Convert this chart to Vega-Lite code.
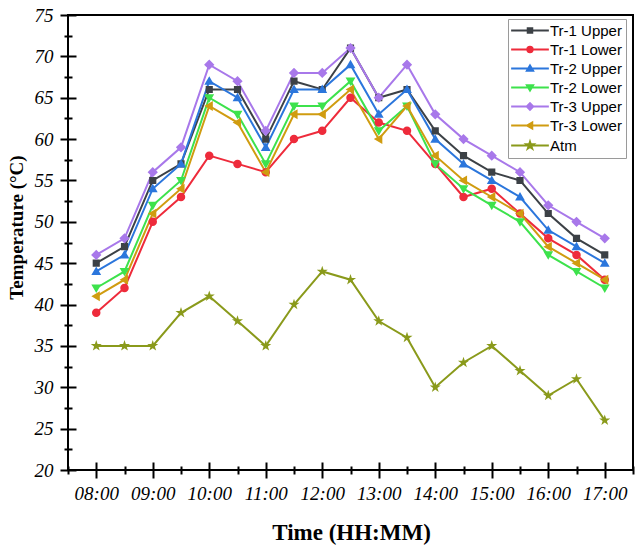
{
  "$schema": "https://vega.github.io/schema/vega-lite/v6.json",
  "width": 565,
  "height": 455,
  "autosize": {"type": "none"},
  "padding": {"left": 68, "top": 15, "right": 7, "bottom": 79},
  "background": "white",
  "config": {
    "view": {"stroke": "#000", "strokeWidth": 2},
    "font": "Liberation Serif",
    "axis": {"grid": false, "tickColor": "#000", "tickWidth": 2, "labelColor": "#000", "titleColor": "#000"},
    "legend": {
      "labelFont": "Liberation Sans", "labelFontSize": 15, "labelColor": "#000", "labelLimit": 0,
      "symbolSize": 32, "symbolOffset": 10.5, "labelOffset": 12.5, "rowPadding": 3,
      "padding": 4, "strokeColor": "#9a9a9a", "fillColor": "#fff", "symbolStrokeWidth": 2
    }
  },
  "data": {
    "values": [
      {"time": "08:00", "hour": 8, "Tr-1 Upper": 45, "Tr-1 Lower": 39, "Tr-2 Upper": 44, "Tr-2 Lower": 42, "Tr-3 Upper": 46, "Tr-3 Lower": 41, "Atm": 35},
      {"time": "08:30", "hour": 8.5, "Tr-1 Upper": 47, "Tr-1 Lower": 42, "Tr-2 Upper": 46, "Tr-2 Lower": 44, "Tr-3 Upper": 48, "Tr-3 Lower": 43, "Atm": 35},
      {"time": "09:00", "hour": 9, "Tr-1 Upper": 55, "Tr-1 Lower": 50, "Tr-2 Upper": 54, "Tr-2 Lower": 52, "Tr-3 Upper": 56, "Tr-3 Lower": 51, "Atm": 35},
      {"time": "09:30", "hour": 9.5, "Tr-1 Upper": 57, "Tr-1 Lower": 53, "Tr-2 Upper": 57, "Tr-2 Lower": 55, "Tr-3 Upper": 59, "Tr-3 Lower": 54, "Atm": 39},
      {"time": "10:00", "hour": 10, "Tr-1 Upper": 66, "Tr-1 Lower": 58, "Tr-2 Upper": 67, "Tr-2 Lower": 65, "Tr-3 Upper": 69, "Tr-3 Lower": 64, "Atm": 41},
      {"time": "10:30", "hour": 10.5, "Tr-1 Upper": 66, "Tr-1 Lower": 57, "Tr-2 Upper": 65, "Tr-2 Lower": 63, "Tr-3 Upper": 67, "Tr-3 Lower": 62, "Atm": 38},
      {"time": "11:00", "hour": 11, "Tr-1 Upper": 60, "Tr-1 Lower": 56, "Tr-2 Upper": 59, "Tr-2 Lower": 57, "Tr-3 Upper": 61, "Tr-3 Lower": 56, "Atm": 35},
      {"time": "11:30", "hour": 11.5, "Tr-1 Upper": 67, "Tr-1 Lower": 60, "Tr-2 Upper": 66, "Tr-2 Lower": 64, "Tr-3 Upper": 68, "Tr-3 Lower": 63, "Atm": 40},
      {"time": "12:00", "hour": 12, "Tr-1 Upper": 66, "Tr-1 Lower": 61, "Tr-2 Upper": 66, "Tr-2 Lower": 64, "Tr-3 Upper": 68, "Tr-3 Lower": 63, "Atm": 44},
      {"time": "12:30", "hour": 12.5, "Tr-1 Upper": 71, "Tr-1 Lower": 65, "Tr-2 Upper": 69, "Tr-2 Lower": 67, "Tr-3 Upper": 71, "Tr-3 Lower": 66, "Atm": 43},
      {"time": "13:00", "hour": 13, "Tr-1 Upper": 65, "Tr-1 Lower": 62, "Tr-2 Upper": 63, "Tr-2 Lower": 61, "Tr-3 Upper": 65, "Tr-3 Lower": 60, "Atm": 38},
      {"time": "13:30", "hour": 13.5, "Tr-1 Upper": 66, "Tr-1 Lower": 61, "Tr-2 Upper": 66, "Tr-2 Lower": 64, "Tr-3 Upper": 69, "Tr-3 Lower": 64, "Atm": 36},
      {"time": "14:00", "hour": 14, "Tr-1 Upper": 61, "Tr-1 Lower": 57, "Tr-2 Upper": 60, "Tr-2 Lower": 57, "Tr-3 Upper": 63, "Tr-3 Lower": 58, "Atm": 30},
      {"time": "14:30", "hour": 14.5, "Tr-1 Upper": 58, "Tr-1 Lower": 53, "Tr-2 Upper": 57, "Tr-2 Lower": 54, "Tr-3 Upper": 60, "Tr-3 Lower": 55, "Atm": 33},
      {"time": "15:00", "hour": 15, "Tr-1 Upper": 56, "Tr-1 Lower": 54, "Tr-2 Upper": 55, "Tr-2 Lower": 52, "Tr-3 Upper": 58, "Tr-3 Lower": 53, "Atm": 35},
      {"time": "15:30", "hour": 15.5, "Tr-1 Upper": 55, "Tr-1 Lower": 51, "Tr-2 Upper": 53, "Tr-2 Lower": 50, "Tr-3 Upper": 56, "Tr-3 Lower": 51, "Atm": 32},
      {"time": "16:00", "hour": 16, "Tr-1 Upper": 51, "Tr-1 Lower": 48, "Tr-2 Upper": 49, "Tr-2 Lower": 46, "Tr-3 Upper": 52, "Tr-3 Lower": 47, "Atm": 29},
      {"time": "16:30", "hour": 16.5, "Tr-1 Upper": 48, "Tr-1 Lower": 46, "Tr-2 Upper": 47, "Tr-2 Lower": 44, "Tr-3 Upper": 50, "Tr-3 Lower": 45, "Atm": 31},
      {"time": "17:00", "hour": 17, "Tr-1 Upper": 46, "Tr-1 Lower": 43, "Tr-2 Upper": 45, "Tr-2 Lower": 42, "Tr-3 Upper": 48, "Tr-3 Lower": 43, "Atm": 26}
    ]
  },
  "transform": [
    {"fold": ["Tr-1 Upper", "Tr-1 Lower", "Tr-2 Upper", "Tr-2 Lower", "Tr-3 Upper", "Tr-3 Lower", "Atm"], "as": ["series", "temp"]}
  ],
  "layer": [
    {
      "mark": {"type": "line", "strokeWidth": 2},
      "encoding": {
        "x": {
          "field": "hour", "type": "quantitative",
          "scale": {"domain": [7.5, 17.5], "nice": false, "zero": false},
          "axis": {
            "orient": "bottom", "domain": false, "ticks": false, "tickSize": 0,
            "values": [8, 9, 10, 11, 12, 13, 14, 15, 16, 17],
            "labelExpr": "(datum.value < 10 ? '0' : '') + datum.value + ':00'",
            "labelFontStyle": "italic", "labelFontSize": 19, "labelPadding": 14, "labelFlush": false, "labelOverlap": false,
            "title": "Time (HH:MM)", "titleFontSize": 23, "titleFontWeight": "bold",
            "titleX": 283, "titleY": 69, "titleBaseline": "alphabetic", "titleAlign": "center"
          }
        },
        "y": {
          "field": "temp", "type": "quantitative",
          "scale": {"domain": [20, 75], "nice": false, "zero": false},
          "axis": {
            "orient": "left", "domain": false, "ticks": false, "tickSize": 0,
            "values": [20, 25, 30, 35, 40, 45, 50, 55, 60, 65, 70, 75],
            "labelFontStyle": "italic", "labelFontSize": 19, "labelPadding": 15,
            "title": "Temperature (°C)", "titleFontSize": 19, "titleFontWeight": "bold",
            "titleAngle": 270, "titleX": -52, "titleY": 212, "titleBaseline": "middle", "titleAlign": "center"
          }
        },
        "stroke": {
          "field": "series", "type": "nominal",
          "scale": {
            "domain": ["Tr-1 Upper", "Tr-1 Lower", "Tr-2 Upper", "Tr-2 Lower", "Tr-3 Upper", "Tr-3 Lower", "Atm"],
            "range": ["#3c4146", "#ee2b3b", "#2b76dc", "#3de24c", "#a878ea", "#d09c10", "#8a9a1b"]
          },
          "legend": {"title": null, "orient": "none", "legendX": 440, "legendY": 4}
        }
      }
    },
    {
      "mark": {"type": "point", "filled": true, "size": 80, "opacity": 1, "strokeWidth": 0},
      "encoding": {
        "x": {
          "field": "hour", "type": "quantitative",
          "scale": {"domain": [7.5, 17.5], "nice": false, "zero": false},
          "axis": {"orient": "bottom", "offset": -8, "tickSize": 16, "domain": false, "labels": false, "title": null, "values": [8, 9, 10, 11, 12, 13, 14, 15, 16, 17]}
        },
        "y": {
          "field": "temp", "type": "quantitative",
          "scale": {"domain": [20, 75], "nice": false, "zero": false},
          "axis": {"orient": "left", "offset": -8, "tickSize": 16, "domain": false, "labels": false, "title": null, "values": [20, 25, 30, 35, 40, 45, 50, 55, 60, 65, 70, 75]}
        },
        "stroke": {"field": "series", "type": "nominal", "legend": {"title": null, "orient": "none", "legendX": 440, "legendY": 4}},
        "fill": {
          "field": "series", "type": "nominal",
          "scale": {
            "domain": ["Tr-1 Upper", "Tr-1 Lower", "Tr-2 Upper", "Tr-2 Lower", "Tr-3 Upper", "Tr-3 Lower", "Atm"],
            "range": ["#3c4146", "#ee2b3b", "#2b76dc", "#3de24c", "#a878ea", "#d09c10", "#8a9a1b"]
          },
          "legend": {
            "title": null, "orient": "none", "legendX": 440, "legendY": 4,
            "encoding": {"symbols": {"strokeWidth": {"value": 2}, "size": {"value": 32}}}
          }
        },
        "shape": {
          "field": "series", "type": "nominal",
          "scale": {
            "domain": ["Tr-1 Upper", "Tr-1 Lower", "Tr-2 Upper", "Tr-2 Lower", "Tr-3 Upper", "Tr-3 Lower", "Atm"],
            "range": [
              "M-6.67,0H6.67M-0.8,-0.8H0.8V0.8H-0.8Z",
              "M-6.67,0H6.67M-0.95,0A0.95,0.95 0 1,0 0.95,0A0.95,0.95 0 1,0 -0.95,0Z",
              "M-6.67,0H6.67M0,-1.1L1.1,0.8H-1.1Z",
              "M-6.67,0H6.67M0,1.1L1.1,-0.8H-1.1Z",
              "M-6.67,0H6.67M0,-1.15L1.15,0L0,1.15L-1.15,0Z",
              "M-6.67,0H6.67M-1.1,0L0.8,-1.1V1.1Z",
              "M-6.67,0H6.67M0,-1.3L0.294,-0.405L1.236,-0.402L0.476,0.155L0.764,1.052L0,0.5L-0.764,1.052L-0.476,0.155L-1.236,-0.402L-0.294,-0.405Z"
            ]
          },
          "legend": {"title": null, "orient": "none", "legendX": 440, "legendY": 4}
        }
      }
    },
    {
      "transform": [{"filter": "false"}],
      "mark": {"type": "point"},
      "encoding": {
        "x": {
          "field": "hour", "type": "quantitative",
          "scale": {"domain": [7.5, 17.5], "nice": false, "zero": false},
          "axis": {"orient": "bottom", "offset": -4, "tickSize": 8, "domain": false, "labels": false, "title": null, "values": [7.5, 8.5, 9.5, 10.5, 11.5, 12.5, 13.5, 14.5, 15.5, 16.5, 17.5]}
        },
        "y": {
          "field": "temp", "type": "quantitative",
          "scale": {"domain": [20, 75], "nice": false, "zero": false},
          "axis": {"orient": "left", "offset": -4, "tickSize": 8, "domain": false, "labels": false, "title": null, "values": [22.5, 27.5, 32.5, 37.5, 42.5, 47.5, 52.5, 57.5, 62.5, 67.5, 72.5]}
        }
      }
    }
  ],
  "resolve": {"axis": {"x": "independent", "y": "independent"}}
}
